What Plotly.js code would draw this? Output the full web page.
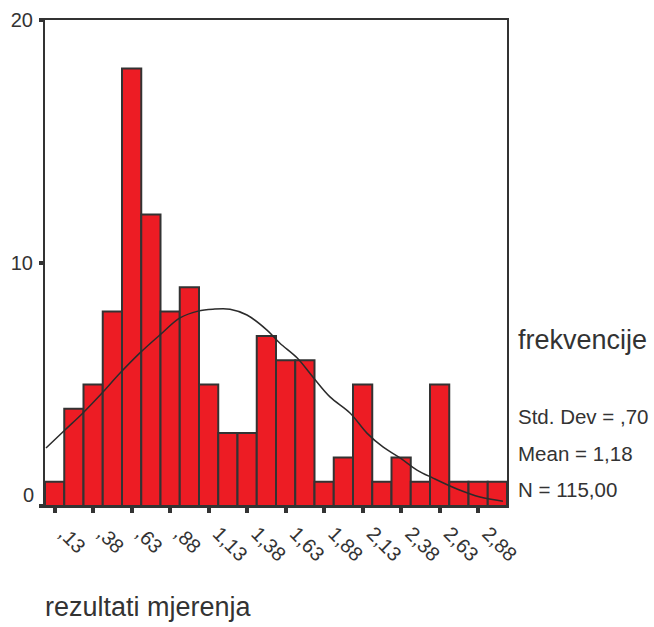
<!DOCTYPE html>
<html>
<head>
<meta charset="utf-8">
<script src="https://cdn.plot.ly/plotly-3.0.1.min.js"></script>
<style>html,body{margin:0;padding:0;background:#fff;}#chart{width:654px;height:627px;}</style>
</head>
<body>
<div id="chart"></div>
<script>
// Histogram bins (bin centres, width 0.125) and frequencies
var binCenters = [0.125,0.25,0.375,0.5,0.625,0.75,0.875,1.0,1.125,1.25,1.375,1.5,1.625,1.75,1.875,2.0,2.125,2.25,2.375,2.5,2.625,2.75,2.875,3.0];
var counts     = [1,4,5,8,18,12,8,9,5,3,3,7,6,6,1,2,5,1,2,1,5,1,1,1];
// Normal curve
var curveX = [0.069,0.192,0.309,0.433,0.550,0.679,0.809,0.939,1.056,1.153,1.264,1.374,1.504,1.588,1.699,1.803,1.913,2.043,2.153,2.257,2.368,2.478,2.582,2.738,2.887,3.036];
var curveY = [2.39,3.13,3.83,4.65,5.47,6.30,7.04,7.74,8.02,8.10,8.10,7.86,7.24,6.70,6.10,5.30,4.49,3.83,3.00,2.43,1.98,1.48,1.15,0.70,0.37,0.20];
// Tick labels
var xTickVals = [0.125,0.375,0.625,0.875,1.125,1.375,1.625,1.875,2.125,2.375,2.625,2.875];
var xTickText = [",13",",38",",63",",88","1,13","1,38","1,63","1,88","2,13","2,38","2,63","2,88"];
var yTickVals = [0,10,20];
var yTickText = ["0","10","20"];
var statLines = ["Std. Dev = ,70","Mean = 1,18","N = 115,00"];
var legendTitle = "frekvencije";
var xTitle = "rezultati mjerenja";

var FONT = "Liberation Sans, Arial, sans-serif";
var TXT = "#333333";

var traces = [
  {type:"bar", x:binCenters, y:counts, width:0.125,
   marker:{color:"#ED1C24", line:{color:"#333333", width:2}},
   hoverinfo:"x+y"},
  {type:"scatter", mode:"lines", x:curveX, y:curveY,
   line:{color:"#2b2b2b", width:1.5, shape:"spline"}, hoverinfo:"skip"}
];

// the lowest y label sits slightly above its tick in the reference
var yAxisText = yTickText.map(function(t, i){ return i === 0 ? "" : t; });

var statY = [0.185, 0.109, 0.033];
var annotations = [
  {xref:"paper", yref:"paper", x:1.0195, y:0.3416, xanchor:"left", yanchor:"middle",
   text:legendTitle, showarrow:false, font:{family:FONT, size:27, color:TXT}},
  {xref:"paper", yref:"paper", x:-0.004, y:-0.2078, xanchor:"left", yanchor:"middle",
   text:xTitle, showarrow:false, font:{family:FONT, size:27, color:TXT}},
  {xref:"paper", yref:"y", x:0, y:yTickVals[0], xanchor:"right", yanchor:"middle",
   xshift:-9, yshift:11, text:yTickText[0], showarrow:false, font:{family:FONT, size:20, color:TXT}}
];
for (var i=0;i<statLines.length;i++){
  annotations.push({xref:"paper", yref:"paper", x:1.0195, y:statY[i], xanchor:"left", yanchor:"middle",
   text:statLines[i], showarrow:false, font:{family:FONT, size:20.5, color:TXT}});
}

var layout = {
  width:654, height:627,
  margin:{l:45, r:147, t:20, b:121, pad:0},
  paper_bgcolor:"#ffffff", plot_bgcolor:"#ffffff",
  showlegend:false, bargap:0,
  font:{family:FONT, color:TXT},
  xaxis:{range:[0.0625,3.0625], tickmode:"array", tickvals:xTickVals, ticktext:xTickText,
         tickangle:45, ticks:"outside", ticklen:5, tickwidth:4, tickcolor:"#333333",
         ticklabelstandoff:1, ticklabelshift:10,
         showline:true, linecolor:"#333333", linewidth:2, mirror:true,
         showgrid:false, zeroline:false, tickfont:{family:FONT, size:20, color:TXT}},
  yaxis:{range:[0,20], tickmode:"array", tickvals:yTickVals, ticktext:yAxisText,
         ticks:"outside", ticklen:4, tickwidth:4, tickcolor:"#333333",
         ticklabelstandoff:2,
         showline:true, linecolor:"#333333", linewidth:2, mirror:true,
         showgrid:false, zeroline:false, tickfont:{family:FONT, size:20, color:TXT}},
  annotations:annotations
};
Plotly.newPlot("chart", traces, layout, {staticPlot:true, displayModeBar:false});
</script>
</body>
</html>
